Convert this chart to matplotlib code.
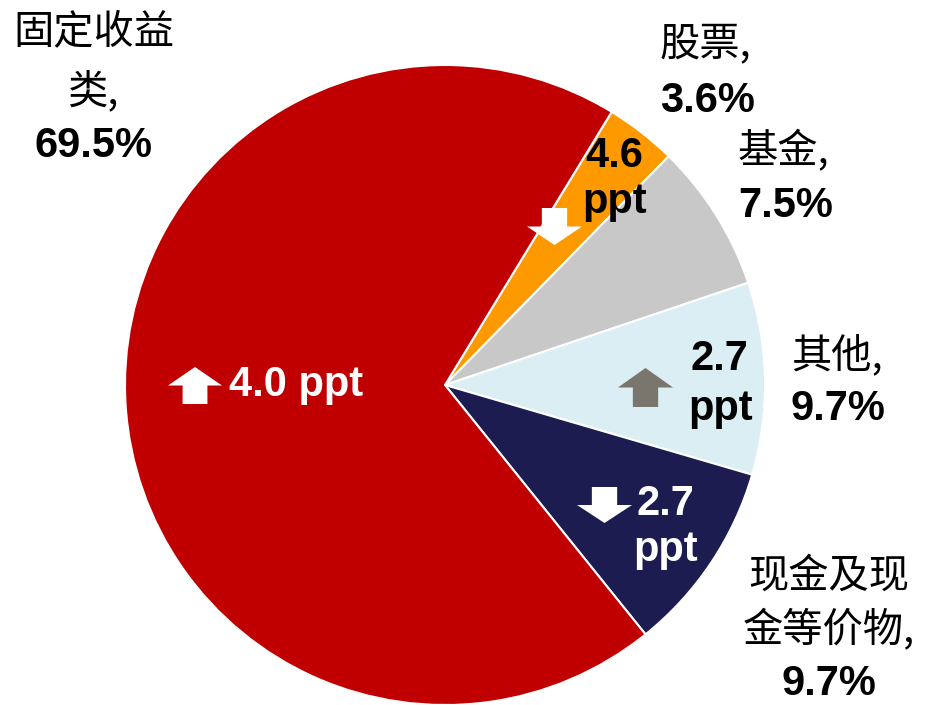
import matplotlib
matplotlib.use("Agg")
import matplotlib.pyplot as plt
from matplotlib.patches import Polygon

# data (clockwise from the top-right)
categories = ["股票", "基金", "其他", "现金及现金等价物", "固定收益类"]
shares = [3.6, 7.5, 9.7, 9.7, 69.5]
changes = ["4.6", None, "2.7", "2.7", "4.0"]
colors = ["#FF9900", "#C8C8C8", "#DAEEF3", "#1C1C50", "#C00000"]

W, H = 927, 705
CX, CY, R = 445, 385, 320

fig = plt.figure(figsize=(W / 100, H / 100), dpi=100)
ax = fig.add_axes([(CX - R) / W, (H - CY - R) / H, 2 * R / W, 2 * R / H])

ax.pie(shares, colors=colors, startangle=58.6, counterclock=False, radius=1,
       wedgeprops=dict(edgecolor="white", linewidth=1.5))
# pie() sets its own limits, so fix them afterwards
ax.set_xlim(-1, 1)
ax.set_ylim(-1, 1)
ax.set_aspect("equal")
ax.axis("off")


def px(x, y):
    return (x - CX) / R, (CY - y) / R


cjk = ["Noto Sans CJK SC", "DejaVu Sans"]
num = ["Liberation Sans", "DejaVu Sans"]
CJK_SIZE = 29
NUM_SIZE = 30


def cjk_text(x, y, s, ha="left"):
    ax.text(*px(x, y), s, family=cjk, fontsize=CJK_SIZE, ha=ha, va="center",
            color="black", clip_on=False)


def num_text(x, y, s, ha="left", color="black"):
    ax.text(*px(x, y), s, family=num, fontsize=NUM_SIZE, fontweight="bold",
            ha=ha, va="baseline", color=color, clip_on=False)


def block_arrow(x0, y0, x1, y1, up, color):
    # x0..x1, y0..y1 are pixel bounds of the arrow
    w = x1 - x0
    h = y1 - y0
    cx = (x0 + x1) / 2
    sw = w * 0.23
    if up:
        pts = [(cx, y0), (x1, y0 + h / 2), (cx + sw, y0 + h / 2), (cx + sw, y1),
               (cx - sw, y1), (cx - sw, y0 + h / 2), (x0, y0 + h / 2)]
    else:
        pts = [(cx, y1), (x1, y1 - h / 2), (cx + sw, y1 - h / 2), (cx + sw, y0),
               (cx - sw, y0), (cx - sw, y1 - h / 2), (x0, y1 - h / 2)]
    ax.add_patch(Polygon([px(a, b) for a, b in pts], closed=True,
                         facecolor=color, edgecolor="none", zorder=5,
                         clip_on=False))


# outside labels
cjk_text(94, 32, "固定收益", ha="center")
cjk_text(93, 91, "类,", ha="center")
num_text(93, 157, f"{shares[4]}%", ha="center")

cjk_text(660, 44, categories[0] + ",")
num_text(660, 112, f"{shares[0]}%")

cjk_text(738, 151, categories[1] + ",")
num_text(738, 217, f"{shares[1]}%")

cjk_text(791, 356, categories[2] + ",")
num_text(791, 420, f"{shares[2]}%")

cjk_text(829, 576, "现金及现", ha="center")
cjk_text(829, 630, "金等价物,", ha="center")
num_text(829, 695, f"{shares[3]}%", ha="center")

# change labels inside the slices
num_text(229, 396, f"{changes[4]} ppt", color="white")
block_arrow(168, 367, 222, 404, True, "white")

num_text(614, 167, changes[0], ha="center")
num_text(615, 213, "ppt", ha="center")
block_arrow(527, 208, 582, 245, False, "white")

num_text(719, 370, changes[2], ha="center")
num_text(721, 420, "ppt", ha="center")
block_arrow(618, 368, 673, 407, True, "#7A756D")

num_text(665, 515, changes[3], ha="center", color="white")
num_text(666, 561, "ppt", ha="center", color="white")
block_arrow(577, 487, 632, 523, False, "white")

fig.savefig("out.png", dpi=100)
